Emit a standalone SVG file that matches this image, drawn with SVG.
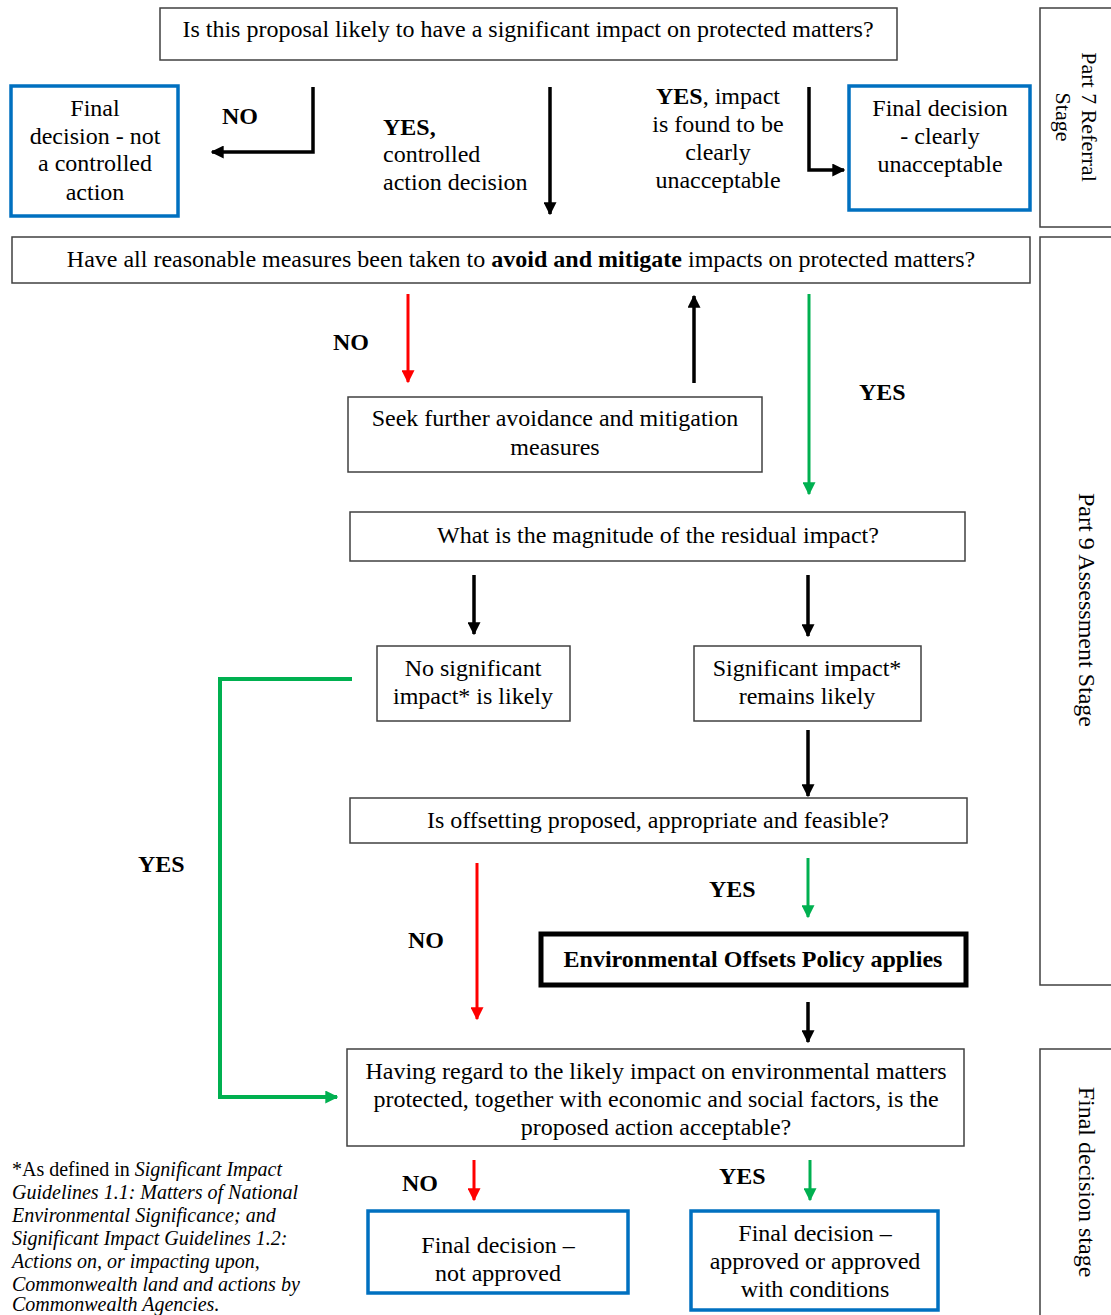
<svg xmlns="http://www.w3.org/2000/svg" width="1111" height="1315" viewBox="0 0 1111 1315">
<style>
text{font-family:"Liberation Serif","Times New Roman",serif;font-size:24px;fill:#000}
.c{text-anchor:middle}
.b{font-weight:bold}
.box{fill:#fff;stroke:#404040;stroke-width:1.5}
.blue{fill:#fff;stroke:#0070C0;stroke-width:3.5}
.side{fill:#fff;stroke:#404040;stroke-width:1.5}
.k{stroke:#000;stroke-width:3.5;fill:none}
.r{stroke:#FF0000;stroke-width:3;fill:none}
.g{stroke:#00B050;stroke-width:3;fill:none}
.fn{font-size:20px;font-style:italic}
.s7{font-size:22px}
</style>
<defs>
<marker id="ak" viewBox="0 0 10 10" refX="9" refY="5" markerWidth="13" markerHeight="13" markerUnits="userSpaceOnUse" orient="auto"><path d="M0,0 L10,5 L0,10 z" fill="#000"/></marker>
<marker id="ar" viewBox="0 0 10 10" refX="9" refY="5" markerWidth="13" markerHeight="13" markerUnits="userSpaceOnUse" orient="auto"><path d="M0,0 L10,5 L0,10 z" fill="#FF0000"/></marker>
<marker id="ag" viewBox="0 0 10 10" refX="9" refY="5" markerWidth="13" markerHeight="13" markerUnits="userSpaceOnUse" orient="auto"><path d="M0,0 L10,5 L0,10 z" fill="#00B050"/></marker>
</defs>
<rect width="1111" height="1315" fill="#fff"/>

<g id="stage-part7"><rect class="side" x="1040" y="8" width="80" height="219"/>
<text class="c s7" transform="translate(1082,117) rotate(90)">Part 7 Referral</text>
<text class="c s7" transform="translate(1056,117) rotate(90)">Stage</text></g>
<g id="stage-part9"><rect class="side" x="1040" y="237" width="80" height="748"/>
<text class="c" transform="translate(1079,610) rotate(90)">Part 9 Assessment Stage</text></g>
<g id="stage-final"><rect class="side" x="1040" y="1049" width="80" height="280"/>
<text class="c" transform="translate(1079,1182) rotate(90)">Final decision stage</text></g>

<g id="connectors">
<path class="k" d="M313,87 V152 H212" marker-end="url(#ak)"/>
<path class="k" d="M550,87 V214" marker-end="url(#ak)"/>
<path class="k" d="M809,87 V170 H844" marker-end="url(#ak)"/>
<path class="r" d="M408,294 V382" marker-end="url(#ar)"/>
<path class="k" d="M694,383 V296" marker-end="url(#ak)"/>
<path class="g" d="M809,294 V494" marker-end="url(#ag)"/>
<path class="k" d="M474,575 V634" marker-end="url(#ak)"/>
<path class="k" d="M808,575 V636" marker-end="url(#ak)"/>
<path class="k" d="M808,730 V796" marker-end="url(#ak)"/>
<path class="g" d="M352,679 H220 V1097 H337" style="stroke-width:4" marker-end="url(#ag)"/>
<path class="r" d="M477,863 V1019" marker-end="url(#ar)"/>
<path class="g" d="M808,858 V917" marker-end="url(#ag)"/>
<path class="k" d="M808,1002 V1042" marker-end="url(#ak)"/>
<path class="r" d="M474,1160 V1200" marker-end="url(#ar)"/>
<path class="g" d="M810,1160 V1200" marker-end="url(#ag)"/>
<text class="b" x="222" y="124">NO</text>
<text class="b" x="383" y="135">YES,</text>
<text x="383" y="162">controlled</text>
<text x="383" y="190">action decision</text>
<text class="c" x="718" y="104"><tspan class="b">YES</tspan>, impact</text>
<text class="c" x="718" y="132">is found to be</text>
<text class="c" x="718" y="160">clearly</text>
<text class="c" x="718" y="188">unacceptable</text>
<text class="b" x="333" y="350">NO</text>
<text class="b" x="859" y="400">YES</text>
<text class="b" x="138" y="872">YES</text>
<text class="b" x="408" y="948">NO</text>
<text class="b" x="709" y="897">YES</text>
<text class="b" x="402" y="1191">NO</text>
<text class="b" x="719" y="1184">YES</text>
</g>

<g id="q1"><rect class="box" x="160" y="8" width="737" height="52"/>
<text class="c" x="528" y="37">Is this proposal likely to have a significant impact on protected matters?</text></g>

<g id="final-not-controlled"><rect class="blue" x="11" y="86" width="167" height="130"/>
<text class="c" x="95" y="116">Final</text>
<text class="c" x="95" y="144">decision - not</text>
<text class="c" x="95" y="171">a controlled</text>
<text class="c" x="95" y="200">action</text></g>

<g id="final-unacceptable"><rect class="blue" x="849" y="86" width="181" height="124"/>
<text class="c" x="940" y="116">Final decision</text>
<text class="c" x="940" y="144">- clearly</text>
<text class="c" x="940" y="172">unacceptable</text></g>

<g id="q2"><rect class="box" x="12" y="237" width="1018" height="46"/>
<text class="c" x="521" y="267">Have all reasonable measures been taken to <tspan class="b">avoid and mitigate</tspan> impacts on protected matters?</text></g>

<g id="seek"><rect class="box" x="348" y="397" width="414" height="75"/>
<text class="c" x="555" y="426">Seek further avoidance and mitigation</text>
<text class="c" x="555" y="455">measures</text></g>

<g id="q3"><rect class="box" x="350" y="512" width="615" height="49"/>
<text class="c" x="658" y="543">What is the magnitude of the residual impact?</text></g>

<g id="no-sig"><rect class="box" x="377" y="646" width="193" height="75"/>
<text class="c" x="473" y="676">No significant</text>
<text class="c" x="473" y="704">impact* is likely</text></g>

<g id="sig"><rect class="box" x="694" y="646" width="227" height="75"/>
<text class="c" x="807" y="676">Significant impact*</text>
<text class="c" x="807" y="704">remains likely</text></g>

<g id="q4"><rect class="box" x="350" y="798" width="617" height="45"/>
<text class="c" x="658" y="828">Is offsetting proposed, appropriate and feasible?</text></g>

<g id="offsets"><rect x="541" y="934" width="425" height="51" fill="#fff" stroke="#000" stroke-width="5"/>
<text class="c b" x="753" y="967">Environmental Offsets Policy applies</text></g>

<g id="q5"><rect class="box" x="347" y="1049" width="617" height="97"/>
<text class="c" x="656" y="1079">Having regard to the likely impact on environmental matters</text>
<text class="c" x="656" y="1107">protected, together with economic and social factors, is the</text>
<text class="c" x="656" y="1135">proposed action acceptable?</text></g>

<g id="final-not-approved"><rect class="blue" x="368" y="1211" width="260" height="82"/>
<text class="c" x="498" y="1253">Final decision –</text>
<text class="c" x="498" y="1281">not approved</text></g>

<g id="final-approved"><rect class="blue" x="691" y="1211" width="247" height="99"/>
<text class="c" x="815" y="1241">Final decision –</text>
<text class="c" x="815" y="1269">approved or approved</text>
<text class="c" x="815" y="1297">with conditions</text></g>

<g id="footnote">
<text class="fn" x="12" y="1176"><tspan style="font-style:normal">*As defined in </tspan>Significant Impact</text>
<text class="fn" x="12" y="1199">Guidelines 1.1: Matters of National</text>
<text class="fn" x="12" y="1222">Environmental Significance; and</text>
<text class="fn" x="12" y="1245">Significant Impact Guidelines 1.2:</text>
<text class="fn" x="12" y="1268">Actions on, or impacting upon,</text>
<text class="fn" x="12" y="1291">Commonwealth land and actions by</text>
<text class="fn" x="12" y="1311">Commonwealth Agencies.</text>
</g>
</svg>
